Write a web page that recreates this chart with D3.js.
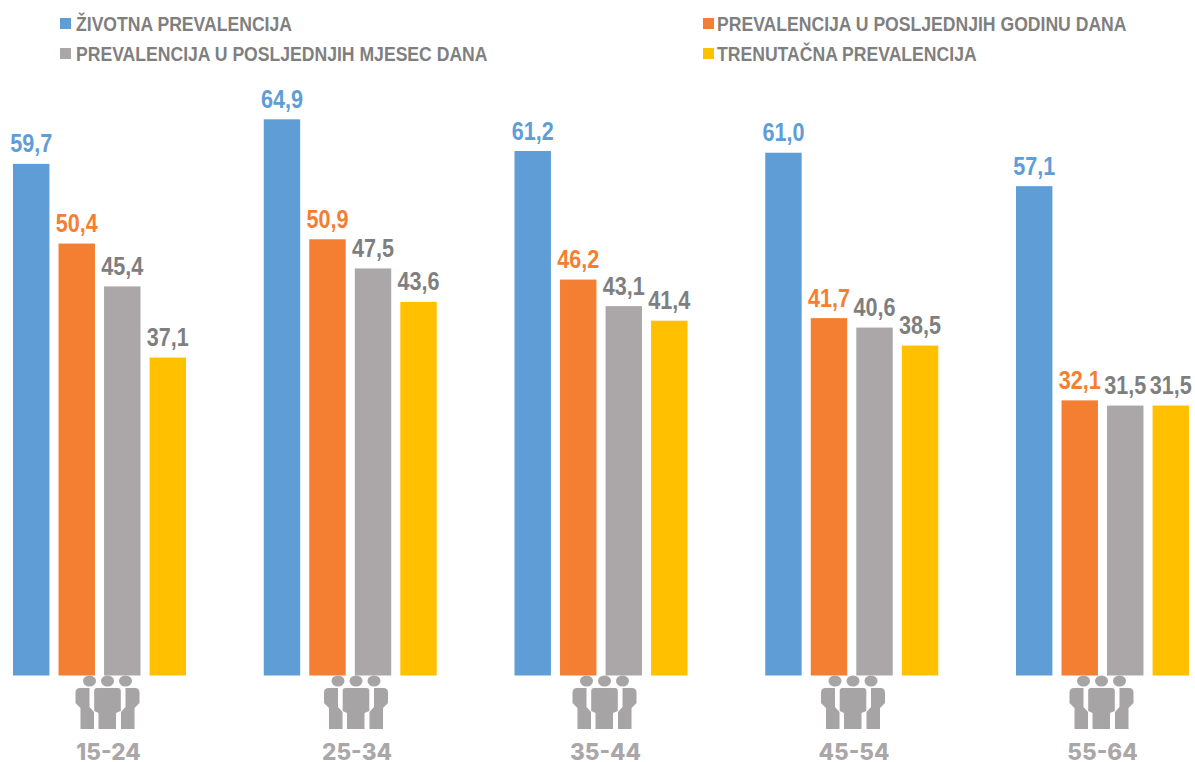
<!DOCTYPE html>
<html><head><meta charset="utf-8">
<script src="https://cdnjs.cloudflare.com/ajax/libs/d3/7.8.5/d3.min.js"></script>
<style>html,body{margin:0;padding:0;background:#fff;overflow:hidden}svg{display:block}</style>
</head><body><div id="c"></div>
<script>
const ageGroups = ["15-24","25-34","35-44","45-54","55-64"];
const seriesNames = ["ŽIVOTNA PREVALENCIJA","PREVALENCIJA U POSLJEDNJIH GODINU DANA","PREVALENCIJA U POSLJEDNJIH MJESEC DANA","TRENUTAČNA PREVALENCIJA"];
const lifetime = [59.7,64.9,61.2,61.0,57.1];
const lastYear = [50.4,50.9,46.2,41.7,32.1];
const lastMonth = [45.4,47.5,43.1,40.6,31.5];
const current = [37.1,43.6,41.4,38.5,31.5];
const seriesValues = [lifetime,lastYear,lastMonth,current];
const barColors = ["#5F9DD7","#F47E32","#ABA7A9","#FFC000"];
const labelColors = ["#5F9DD7","#F47E32","#7F7F7F","#7F7F7F"];
const W=1195,H=762,base=675.5,pxPerUnit=8.57;
const svg=d3.select("#c").append("svg").attr("width",W).attr("height",H);
const x0=d3.scaleBand().domain(ageGroups).range([13,1189]).paddingInner(0.31);
const x1=d3.scaleBand().domain(d3.range(4)).range([0,x0.bandwidth()]).paddingInner(0.2);
const y=d3.scaleLinear().domain([0,70]).range([base,base-70*pxPerUnit]);
const xIcon=d3.scalePoint().domain(ageGroups).range([107.5,1101.5]);
const sans="'Liberation Sans',Arial,sans-serif";
const groups=svg.selectAll("g.grp").data(ageGroups).join("g").attr("class","grp")
  .attr("transform",d=>`translate(${x0(d)},0)`);
groups.each(function(g,gi){
  const sel=d3.select(this);
  seriesValues.forEach((vals,si)=>{
    const v=vals[gi];
    sel.append("rect").attr("x",x1(si)).attr("y",y(v)).attr("width",x1.bandwidth())
      .attr("height",y(0)-y(v)).attr("fill",barColors[si]);
    sel.append("text").attr("transform",`translate(${x1(si)+x1.bandwidth()/2},${y(v)-11.5}) scale(0.83,1)`)
      .attr("text-anchor","middle").attr("font-family",sans).attr("font-weight",700)
      .attr("font-size",26).attr("fill",labelColors[si]).text(v.toFixed(1).replace(".",","));
  });
});
ageGroups.forEach(g=>{
  const cx=xIcon(g);
  const ic=svg.append("g").attr("transform",`translate(${cx},675)`).attr("fill","#A6A4A5");
  [-18,0,18].forEach(dx=>ic.append("ellipse").attr("cx",dx).attr("cy",6).attr("rx",6.5).attr("ry",5.6));
  ic.append("path").attr("d","M-10.5 13H10.5Q13.3 13 13.3 16V36L8.5 38V54H-9V38L-13.3 36V16Q-13.3 13 -10.5 13Z");
  ic.append("path").attr("d","M-18 13H-27.5Q-32 13 -32 18V28L-27 33V54H-13.5V37L-18 32Z");
  ic.append("path").attr("d","M18 13H27.5Q32 13 32 18V28L27 33V54H13.5V37L18 32Z");
  svg.append("text").attr("x",cx+1).attr("y",760).attr("text-anchor","middle")
    .attr("font-family","Inter,'Open Sans',sans-serif").attr("font-weight",800).attr("font-size",22.5)
    .attr("fill","#ABA7A9").text(g);
});
const legendCols=[60,703], legendRows=[24,54];
const order=[[0,0],[1,0],[0,1],[1,1]];
seriesNames.forEach((n,i)=>{
  const [c,r]=order[i];
  const g=svg.append("g").attr("transform",`translate(${legendCols[c]},${legendRows[r]})`);
  g.append("rect").attr("x",0).attr("y",-6).attr("width",11).attr("height",11).attr("fill",barColors[i]);
  g.append("text").attr("transform",`translate(${16-(c?2:0)},7) scale(0.88,1)`).attr("font-family",sans).attr("font-weight",700)
    .attr("font-size",20).attr("fill","#7F7F7F").text(n);
});
</script></body></html>
